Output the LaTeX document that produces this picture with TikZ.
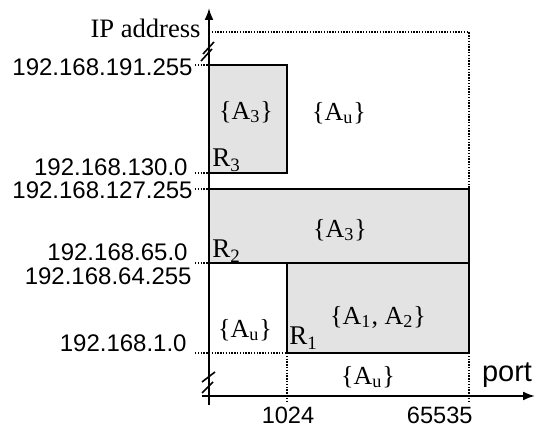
\documentclass[tikz,border=0pt]{standalone}
\usepackage{fontspec}
\setmainfont{Liberation Serif}
\setsansfont{Liberation Sans}
\usetikzlibrary{arrows.meta}
\begin{document}
\begin{tikzpicture}[>={Latex[length=6pt,width=4.5pt]}, x=5pt, y=5pt,
    region/.style={draw, fill=black!11, line width=1pt},
    guide/.style={line width=0.7pt, dash pattern=on 0.7pt off 0.7pt},
    addr/.style={font=\sffamily\fontsize{12}{13}\selectfont, anchor=east, inner sep=0pt},
    tick/.style={font=\sffamily\fontsize{11.8}{12}\selectfont, inner sep=0pt},
    set/.style={font=\fontsize{13}{14}\selectfont, inner sep=0pt},
    rule/.style={font=\fontsize{13.5}{14}\selectfont, anchor=base west, inner sep=0pt}]
    \useasboundingbox (-20.9,-3) rectangle (32.7,39.6);

    % 1. Các vùng (luật R1, R2, R3)
    \filldraw[region] (7.8,4.3) rectangle (26,13.3);
    \filldraw[region] (0,13.3) rectangle (26,20.7);
    \filldraw[region] (0,22.3) rectangle (7.8,33.1);

    % 2. Đường chấm
    \draw[guide] (0,36.4) -- (26,36.4) -- (26,20.7);
    \draw[guide] (26,4.3) -- (26,-0.5);
    \draw[guide] (7.8,4.3) -- (7.8,-0.5);
    \draw[guide] (-1.4,4.3) -- (7.8,4.3);
    \draw[guide] (-1.4,13.3) -- (0,13.3);
    \draw[guide] (-1.4,20.7) -- (0,20.7);
    \draw[guide] (-1.4,22.3) -- (0,22.3);
    \draw[guide] (-1.4,33.1) -- (0,33.1);

    % 3. Hệ trục tọa độ
    \draw[->, line width=1pt] (-0.7,0) -- (32.6,0);
    \draw[->, line width=1pt] (0,-0.9) -- (0,38.8);
    \draw[line width=0.8pt] (-0.6,34.2) -- (0.5,35.4);
    \draw[line width=0.8pt] (-0.8,33.5) -- (0.3,34.7);
    \draw[line width=0.8pt] (-0.7,1.4) -- (0.6,2.4);
    \draw[line width=0.8pt] (-0.7,0.3) -- (0.4,1.4);
    \node[font=\fontsize{13.3}{14}\selectfont, anchor=base east, inner sep=0pt] (ylab) at (-0.8,35.8) {IP address};
    \node[font=\sffamily\fontsize{14.5}{15}\selectfont, anchor=base, inner sep=0pt] (xlab) at (29.8,1.4) {port};

    % 4. Các mốc
    \node[addr] (a1) at (-1.6,32.9) {192.168.191.255};
    \node[addr] (a2) at (-2.1,22.9) {192.168.130.0};
    \node[addr] (a3) at (-1.6,20.6) {192.168.127.255};
    \node[addr] (a4) at (-2.1,14.4) {192.168.65.0};
    \node[addr] (a5) at (-1.7,12.0) {192.168.64.255};
    \node[addr] (a6) at (-2.2,5.3) {192.168.1.0};
    \node[tick] (p1) at (7.9,-1.9) {1024};
    \node[tick, anchor=east] (p2) at (26.4,-1.9) {65535};

    % 5. Nhãn
    \node[set] (s1) at (3.7,28.4) {\{A\textsubscript{3}\}};
    \node[set] (s2) at (13.0,28.3) {\{A\textsubscript{u}\}};
    \node[set] (s3) at (13.1,16.6) {\{A\textsubscript{3}\}};
    \node[set] (s4) at (3.6,6.6) {\{A\textsubscript{u}\}};
    \node[set] (s5) at (16.9,7.9) {\{A\textsubscript{1}, A\textsubscript{2}\}};
    \node[set] (s6) at (15.9,1.9) {\{A\textsubscript{u}\}};
    \node[rule] (r3) at (0.3,22.9) {R\textsubscript{3}};
    \node[rule] (r2) at (0.3,13.8) {R\textsubscript{2}};
    \node[rule] (r1) at (8.0,5.1) {R\textsubscript{1}};
\end{tikzpicture}
\end{document}
